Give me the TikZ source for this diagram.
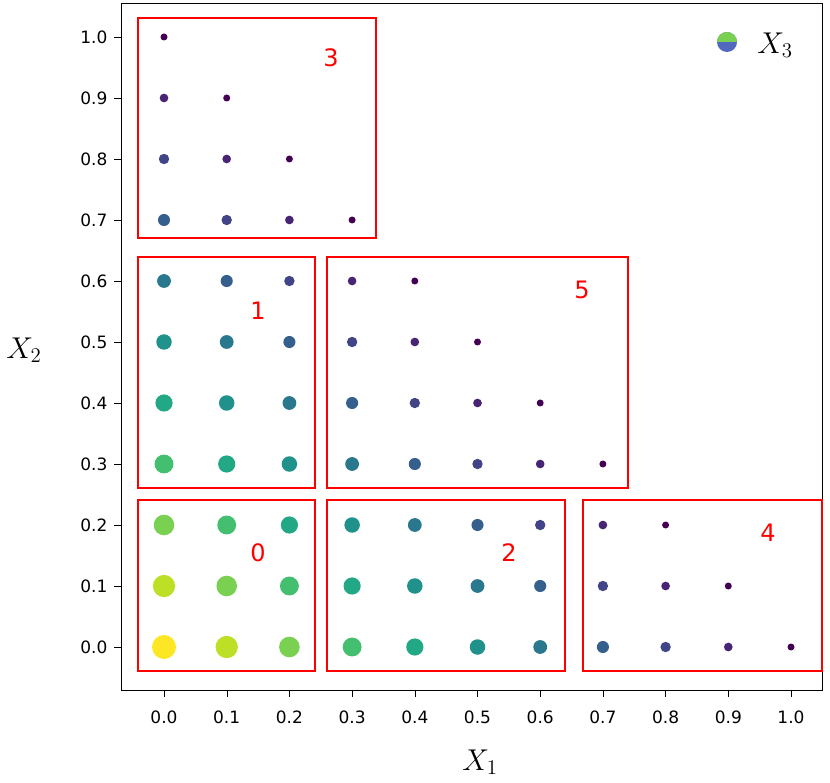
\documentclass[tikz,border=0pt]{standalone}
\usepackage{fontspec}
\newfontfamily\dv{DejaVu Sans}
\definecolor{v0}{HTML}{440154}
\definecolor{v1}{HTML}{482475}
\definecolor{v2}{HTML}{414487}
\definecolor{v3}{HTML}{355F8D}
\definecolor{v4}{HTML}{2A788E}
\definecolor{v5}{HTML}{21918C}
\definecolor{v6}{HTML}{22A884}
\definecolor{v7}{HTML}{44BF70}
\definecolor{v8}{HTML}{7AD151}
\definecolor{v9}{HTML}{BDDF26}
\definecolor{v10}{HTML}{FDE725}
\pgfkeys{/pgf/number format/.cd,fixed,precision=1,zerofill,assume math mode=true}
\tikzset{
  grp/.style={draw=red, line width=1.6pt},
  grplab/.style={text=red, font=\dv\fontsize{24}{28}\selectfont},
  tick/.style={font=\dv\fontsize{17}{20}\selectfont},
  axlab/.style={font=\fontsize{20}{24}\selectfont, scale=1.45}
}
\begin{document}
\begin{tikzpicture}[x=1pt,y=-1pt]
\useasboundingbox (0,0) rectangle (830,783);
\draw[line width=0.8pt] (121,3) rectangle (822,690);
\foreach \i in {0,...,10}{
  \pgfmathsetmacro{\xx}{164+62.7*\i}
  \draw (\xx,690) -- (\xx,697);
  \pgfmathsetmacro{\lab}{\i/10}
  \node[tick] at (\xx,717) {\pgfmathprintnumber{\lab}};
  \pgfmathsetmacro{\yy}{647-61*\i}
  \draw (121,\yy) -- (114,\yy);
  \node[tick,anchor=east] at (111,\yy) {\pgfmathprintnumber{\lab}};
}
\foreach \i in {0,...,10}{
  \pgfmathtruncatemacro{\jm}{10-\i}
  \foreach \j in {0,...,\jm}{
    \pgfmathtruncatemacro{\k}{10-\i-\j}
    \pgfmathsetmacro{\r}{3.5+0.85*\k}
    \fill[v\k] (164+62.7*\i,647-61*\j) circle (\r);
  }
}
\draw[grp] (138,18) rectangle (376,238);
\draw[grp] (138,257) rectangle (315,488);
\draw[grp] (327,257) rectangle (628,488);
\draw[grp] (138,500) rectangle (315,671);
\draw[grp] (327,500) rectangle (565,671);
\draw[grp] (583,500) rectangle (822,671);
\node[grplab] (l3) at (331,58) {3};
\node[grplab] (l1) at (258,311) {1};
\node[grplab] (l5) at (582,290) {5};
\node[grplab] (l0) at (258,553) {0};
\node[grplab] (l2) at (509,553) {2};
\node[grplab] (l4) at (768,533) {4};
\fill[v3!70!blue!80!white] (727,42) circle (10);
\fill[v8] (717,42) arc (180:360:10) -- cycle;
\node[axlab] (x3) at (775,45) {$X_3$};
\node[axlab] (x1) at (480,762) {$X_1$};
\node[axlab] (x2) at (24,350) {$X_2$};
\end{tikzpicture}
\end{document}
